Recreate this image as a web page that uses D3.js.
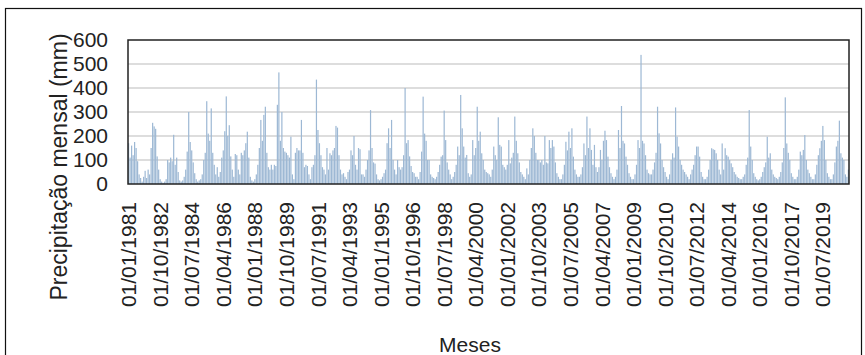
<!DOCTYPE html>
<html><head><meta charset="utf-8">
<script src="https://cdn.jsdelivr.net/npm/d3@7"></script>
<style>html,body{margin:0;padding:0;background:#fff;}svg{display:block;}</style>
</head><body>
<svg id="chart" width="865" height="355"></svg>
<script>
const startYear = 1981;
const precip1980s = [
  170,110,160,120,175,150,95,40,25,10,30,55,
  25,60,40,150,255,240,230,115,60,20,10,5,
  10,20,100,90,110,95,205,80,110,50,15,10,
  15,30,60,135,300,175,140,90,45,20,10,15,
  20,40,100,130,345,210,180,315,130,80,40,70,
  30,50,110,140,220,365,200,245,115,60,30,125,
  120,60,40,130,120,140,170,218,110,30,15,10,
  20,40,80,150,267,180,288,322,130,70,60,80,
  60,80,75,330,465,180,300,150,135,130,120,110
];
const precip1990s = [
  197,40,20,130,150,140,140,267,130,70,80,75,
  40,20,70,80,120,435,225,170,120,70,60,40,
  150,60,128,120,140,150,242,235,120,60,40,45,
  30,20,50,60,140,120,200,80,60,150,145,40,
  40,30,60,100,140,308,150,90,85,40,20,15,
  20,30,45,60,170,232,150,267,100,60,40,100,
  70,60,70,120,400,170,183,115,75,50,45,30,
  30,20,50,135,364,210,180,100,100,40,30,25,
  20,30,50,80,114,120,306,183,90,60,40,20,
  30,50,80,156,120,371,232,156,110,121,45,30
];
const precip2000s = [
  40,183,120,150,322,180,218,128,100,60,50,45,
  40,30,60,156,120,100,278,163,156,80,70,60,
  80,183,86,110,130,281,180,128,90,50,40,30,
  20,65,40,100,150,232,200,130,100,100,90,100,
  80,200,90,86,183,150,183,156,90,45,30,20,
  20,40,80,176,140,218,150,232,114,60,40,30,
  30,40,70,169,120,281,150,232,142,80,163,70,
  50,70,142,100,180,222,183,114,70,45,30,20,
  30,60,225,150,325,180,169,114,80,45,30,20,
  20,40,80,183,150,538,180,169,120,60,45,40
];
const precip2010s = [
  40,60,90,130,322,211,169,100,70,50,30,20,
  40,100,128,110,319,197,156,100,80,60,50,40,
  30,20,40,60,80,120,156,156,114,50,30,20,
  20,30,60,100,149,145,142,128,100,60,40,169,
  60,149,120,114,100,86,70,50,40,30,25,20,
  20,30,40,80,110,308,156,100,45,30,20,15,
  20,30,50,70,90,197,110,128,60,40,30,25,
  20,30,50,90,150,361,169,130,100,45,30,20,
  20,30,60,135,120,142,204,100,60,45,30,20,
  20,40,80,120,149,180,242,183,100,45,30,20,
  20,40,90,156,180,264,128,110,100,40,30,60
];
const tickLabels = ["01/01/1981","01/10/1982","01/07/1984","01/04/1986","01/01/1988","01/10/1989","01/07/1991","01/04/1993","01/01/1995","01/10/1996","01/07/1998","01/04/2000","01/01/2002","01/10/2003","01/07/2005","01/04/2007","01/01/2009","01/10/2010","01/07/2012","01/04/2014","01/01/2016","01/10/2017","01/07/2019"];
const yTicks = [0,100,200,300,400,500,600];
const yTitle = "Precipitação mensal (mm)";
const xTitle = "Meses";

const values = [].concat(precip1980s, precip1990s, precip2000s, precip2010s);
const months = values.map((v,i)=>{
  const y = startYear + Math.floor(i/12), m = i%12 + 1;
  return "01/" + String(m).padStart(2,"0") + "/" + y;
});
const data = months.map((m,i)=>({month:m, value:values[i]}));

const svg = d3.select("#chart");
const font = "'Liberation Sans', Arial, sans-serif";
const L = 128, R = 849, T = 40, B = 184;

// outer frame
svg.append("rect").attr("x",5.5).attr("y",8.5).attr("width",856).attr("height",360)
  .attr("fill","none").attr("stroke","#111").attr("stroke-width",1.2);

const x = d3.scaleBand().domain(months).range([L,R]).paddingInner(0.2).paddingOuter(0);
const y = d3.scaleLinear().domain([0,600]).range([B,T]);

// gridlines
svg.append("g").selectAll("line").data(yTicks.filter(t=>t>0 && t<600)).join("line")
  .attr("x1",L).attr("x2",R).attr("y1",d=>y(d)).attr("y2",d=>y(d))
  .attr("stroke","#d2d2d2").attr("stroke-width",1.6);

// bars
svg.append("g").selectAll("rect").data(data).join("rect")
  .attr("x",d=>x(d.month)).attr("width",x.bandwidth())
  .attr("y",d=>y(d.value)).attr("height",d=>y(0)-y(d.value))
  .attr("fill","#9db8d4");

// plot frame
svg.append("rect").attr("x",L).attr("y",T).attr("width",R-L).attr("height",B-T)
  .attr("fill","none").attr("stroke","#222").attr("stroke-width",1.5);

// y axis
const yAxis = d3.axisLeft(y).tickValues(yTicks).tickSize(0).tickPadding(20);
const gy = svg.append("g").attr("transform",`translate(${L},0)`).call(yAxis);
gy.select(".domain").remove();
gy.selectAll("text").attr("font-family",font).attr("font-size",21).attr("fill","#222");

// x axis labels
const xAxis = d3.axisBottom(x).tickValues(tickLabels).tickSize(0).tickPadding(0);
const gx = svg.append("g").attr("transform",`translate(0,${B})`).call(xAxis);
gx.select(".domain").remove();
gx.selectAll("text").attr("font-family",font).attr("font-size",21).attr("fill","#222")
  .attr("transform","rotate(-90)").attr("text-anchor","end")
  .attr("x",-18).attr("y",0).attr("dy","0.36em");

// titles
svg.append("text").attr("transform",`translate(67,167) rotate(-90)`)
  .attr("text-anchor","middle").attr("font-family",font).attr("font-size",23).attr("fill","#222")
  .text(yTitle);
svg.append("text").attr("x",470).attr("y",352).attr("text-anchor","middle")
  .attr("font-family",font).attr("font-size",21).attr("fill","#222").text(xTitle);
</script>
</body></html>
